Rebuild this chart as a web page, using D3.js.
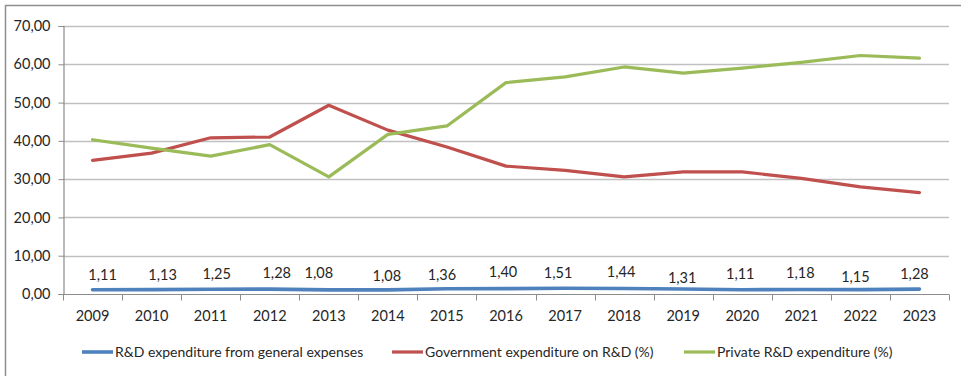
<!DOCTYPE html>
<html>
<head>
<meta charset="utf-8">
<script src="https://cdn.jsdelivr.net/npm/d3@7"></script>
<style>
  html, body { margin: 0; padding: 0; background: #fff; }
  svg { display: block; font-family: Lato, "Open Sans", sans-serif; }
</style>
</head>
<body>
<svg id="chart" width="961" height="376"></svg>
<script>
// Years on the category axis
const years = ["2009","2010","2011","2012","2013","2014","2015","2016","2017","2018","2019","2020","2021","2022","2023"];

// R&D expenditure as share of general expenses (labelled values)
const rdGeneral = [1.11, 1.13, 1.25, 1.28, 1.08, 1.08, 1.36, 1.40, 1.51, 1.44, 1.31, 1.11, 1.18, 1.15, 1.28];

// Government share of R&D expenditure (%)
const govShare = [34.9, 36.8, 40.8, 41.0, 49.3, 42.8, 38.4, 33.4, 32.3, 30.6, 31.9, 31.9, 30.2, 28.0, 26.5];

// Private share of R&D expenditure (%)
const privShare = [40.3, 38.1, 36.0, 39.0, 30.6, 41.7, 43.9, 55.2, 56.7, 59.3, 57.7, 59.0, 60.5, 62.3, 61.6];

// Value-axis ticks
const yTicks = [0, 10, 20, 30, 40, 50, 60, 70];

const seriesNames = [
  "R&D expenditure from general expenses",
  "Government expenditure on R&D (%)",
  "Private R&D expenditure (%)"
];
const seriesColors = ["#4f81bd", "#c0504d", "#9bbb59"];
const seriesWidths = [3.6, 3.2, 3.2];

// Hand-placed offsets for the data labels of the first series [dx, dy]
const labelOffsets = [[10,0],[11,0],[6,0],[7,-1],[-10,-2],[-1,1],[-5,1],[-3,-1.5],[-7,0],[-3,-1.3],[-1,4],[-2,-0.5],[-1,-1.6],[-5,2.3],[-5,0]];

const locale = d3.formatLocale({ decimal: ",", thousands: ".", grouping: [3], currency: ["", ""] });
const fmt = locale.format(".2f");

const svg = d3.select("#chart");
const plotLeft = 63, plotRight = 949, plotTop = 26, plotBottom = 294;

const x = d3.scaleBand().domain(years).range([plotLeft, plotRight]).paddingInner(0).paddingOuter(0);
const y = d3.scaleLinear().domain([0, 70]).range([plotBottom, plotTop]);

// Outer frame (top and left edges)
svg.append("path")
  .attr("d", "M5.5,376 V5.5 H961")
  .attr("fill", "none")
  .attr("stroke", "#8f8f8f")
  .attr("stroke-width", 1.5);

// Horizontal gridlines
svg.append("g")
  .selectAll("line")
  .data(yTicks.filter(d => d > 0))
  .join("line")
  .attr("x1", plotLeft).attr("x2", plotRight)
  .attr("y1", d => Math.round(y(d)) + 0.5).attr("y2", d => Math.round(y(d)) + 0.5)
  .attr("stroke", "#c0c0c0")
  .attr("stroke-width", 1.3);

// Value axis
const yAxis = svg.append("g")
  .attr("transform", `translate(${plotLeft + 0.5},0)`)
  .call(d3.axisLeft(y).tickValues(yTicks).tickFormat(fmt).tickSize(5).tickPadding(8));
yAxis.select(".domain").attr("stroke", "#8c8c8c").attr("stroke-width", 1.2);
yAxis.selectAll(".tick line").attr("stroke", "#8c8c8c");
yAxis.selectAll(".tick text")
  .attr("font-family", "Lato, sans-serif")
  .attr("font-size", 14.5)
  .attr("fill", "#262626");

// Category axis with boundary ticks
const xAxisG = svg.append("g").attr("transform", `translate(0,${Math.round(plotBottom) + 0.5})`);
xAxisG.append("line")
  .attr("x1", plotLeft).attr("x2", plotRight)
  .attr("stroke", "#8c8c8c").attr("stroke-width", 1.2);
const boundaries = years.map(d => x(d)).concat([x(years[years.length - 1]) + x.bandwidth()]);
xAxisG.selectAll("line.tk")
  .data(boundaries)
  .join("line")
  .attr("class", "tk")
  .attr("x1", d => Math.round(d) + 0.5).attr("x2", d => Math.round(d) + 0.5)
  .attr("y1", 0).attr("y2", 6)
  .attr("stroke", "#8c8c8c");
xAxisG.selectAll("text")
  .data(years)
  .join("text")
  .attr("x", d => x(d) + x.bandwidth() / 2)
  .attr("y", 26)
  .attr("text-anchor", "middle")
  .attr("font-size", 14.5)
  .attr("fill", "#262626")
  .text(d => d);

// Series lines
const cx = (d, i) => x(years[i]) + x.bandwidth() / 2;
const line = d3.line().x(cx).y(d => y(d));
[rdGeneral, govShare, privShare].forEach((vals, k) => {
  svg.append("path")
    .datum(vals)
    .attr("d", line)
    .attr("fill", "none")
    .attr("stroke", seriesColors[k])
    .attr("stroke-width", seriesWidths[k])
    .attr("stroke-linejoin", "round")
    .attr("stroke-linecap", "round");
});

// Data labels on the first series
svg.append("g")
  .selectAll("text")
  .data(rdGeneral)
  .join("text")
  .attr("x", (d, i) => cx(d, i) + labelOffsets[i][0])
  .attr("y", (d, i) => y(d) - 10 + labelOffsets[i][1])
  .attr("text-anchor", "middle")
  .attr("font-size", 14.5)
  .attr("fill", "#262626")
  .text(d => fmt(d));

// Legend
const legendX = [82, 392, 684];
const legend = svg.append("g").attr("transform", "translate(0,352)");
seriesNames.forEach((name, k) => {
  legend.append("line")
    .attr("x1", legendX[k]).attr("x2", legendX[k] + 31)
    .attr("y1", 0).attr("y2", 0)
    .attr("stroke", seriesColors[k])
    .attr("stroke-width", seriesWidths[k]);
  legend.append("text")
    .attr("x", legendX[k] + 33)
    .attr("y", 5)
    .attr("font-size", 14)
    .attr("fill", "#262626")
    .text(name);
});
</script>
</body>
</html>
